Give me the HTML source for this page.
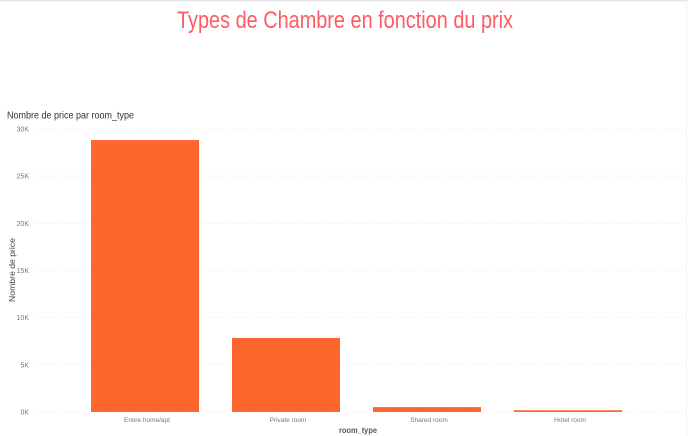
<!DOCTYPE html>
<html lang="fr">
<head>
<meta charset="utf-8">
<title>Types de Chambre en fonction du prix</title>
<style>
html,body{margin:0;padding:0;background:#fff;width:688px;height:436px;overflow:hidden}
svg{display:block;font-family:"Liberation Sans",sans-serif}
</style>
</head>
<body>
<svg id="chart" width="688" height="436" viewBox="0 0 688 436" xmlns="http://www.w3.org/2000/svg">
  <defs>
    <filter id="soft" x="-5%" y="-5%" width="110%" height="110%"><feGaussianBlur stdDeviation="0.3"/></filter>
  </defs>
  <rect x="0" y="0" width="688" height="1.5" fill="#e6e6e6"/>
  <rect x="686" y="0" width="1" height="436" fill="#f2f2f2"/>
  <text x="345" y="28" text-anchor="middle" font-size="24" fill="#fd5c63" textLength="336" lengthAdjust="spacingAndGlyphs" filter="url(#soft)">Types de Chambre en fonction du prix</text>
  <text x="7" y="118.5" font-size="10" fill="#333333" textLength="127" lengthAdjust="spacingAndGlyphs" filter="url(#soft)">Nombre de price par room_type</text>
  <g id="grid"></g>
  <g id="bars"></g>
  <g id="yticks"></g>
  <g id="xticks"></g>
  <text transform="translate(15,270) rotate(-90)" text-anchor="middle" font-size="8" fill="#444444" textLength="64" lengthAdjust="spacingAndGlyphs" filter="url(#soft)">Nombre de price</text>
  <text x="358" y="433" text-anchor="middle" font-size="8.5" font-weight="bold" fill="#555555" textLength="38" lengthAdjust="spacingAndGlyphs" filter="url(#soft)">room_type</text>
</svg>
<script>
const categories = ['Entire home/apt', 'Private room', 'Shared room', 'Hotel room'];
const counts = [28830, 7850, 520, 190];
const tickValues = [0, 5000, 10000, 15000, 20000, 25000, 30000];
const tickLabels = ['0K', '5K', '10K', '15K', '20K', '25K', '30K'];

const NS = 'http://www.w3.org/2000/svg';
const plot = {left: 34, right: 683, top: 129, bottom: 412, bandLeft: 74.5, bandStep: 141, barWidth: 108, yMax: 30000, labelShift: 2};

function yScale(v) {
  return plot.bottom - (v / plot.yMax) * (plot.bottom - plot.top);
}
function xCenter(i) {
  return plot.bandLeft + plot.bandStep * (i + 0.5);
}
function make(tag, attrs, parent, text) {
  const el = document.createElementNS(NS, tag);
  Object.keys(attrs).forEach(function (k) { el.setAttribute(k, attrs[k]); });
  if (text !== undefined) el.textContent = text;
  parent.appendChild(el);
  return el;
}

const gridGroup = document.getElementById('grid');
const yGroup = document.getElementById('yticks');
tickValues.forEach(function (v, i) {
  const line = make('line', {x1: plot.left, x2: plot.right, y1: yScale(v), y2: yScale(v), stroke: '#e6e6e6', 'stroke-width': 0.8, 'stroke-dasharray': '1 2'}, gridGroup);
  
  
  const label = make('text', {x: 29, y: yScale(v) + 2.5, 'text-anchor': 'end', 'font-size': 7, fill: '#777777', filter: 'url(#soft)'}, yGroup, tickLabels[i]);
  
  
});

const barGroup = document.getElementById('bars');
const xGroup = document.getElementById('xticks');
categories.forEach(function (c, i) {
  const top = yScale(counts[i]);
  const bar = make('rect', {x: xCenter(i) - plot.barWidth / 2, y: top, width: plot.barWidth, height: plot.bottom - top, fill: '#ff662d'}, barGroup);
  
  
  const label = make('text', {x: xCenter(i) + plot.labelShift, y: 422, 'text-anchor': 'middle', 'font-size': 6.5, fill: '#777777', filter: 'url(#soft)'}, xGroup, c);
  
  
});
</script>
</body>
</html>
